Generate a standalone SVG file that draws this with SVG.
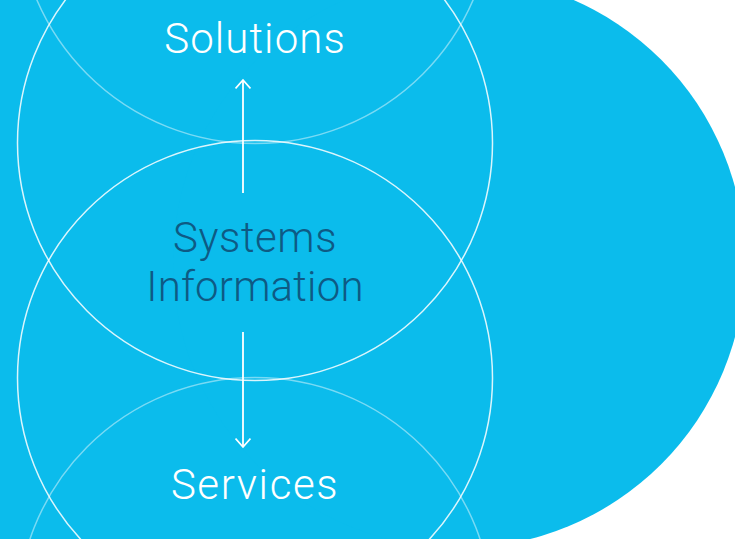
<svg xmlns="http://www.w3.org/2000/svg" width="735" height="539" viewBox="0 0 735 539">
<style>
.ring{fill:none;stroke:#ffffff;stroke-width:1.5}
.solid{stroke-opacity:0.85}
.faint{stroke-opacity:0.45}
.lbl{font-family:Roboto,"Liberation Sans",sans-serif;font-weight:300;font-size:42px;text-anchor:middle}
.light{fill:#ffffff}
.dark{fill:#0E5A84}
.conn{stroke:#ffffff;stroke-width:1.8;fill:none}
</style>
<defs>
<marker id="head" viewBox="0 0 12 16" markerWidth="12" markerHeight="16" refX="10" refY="8" orient="auto" markerUnits="userSpaceOnUse">
<path d="M1.5,0.5 L10,8 L1.5,15.5" fill="none" stroke="#ffffff" stroke-width="1.8"/>
</marker>
</defs>
<rect width="735" height="539" fill="#ffffff"/>
<g id="background">
<rect x="0" y="0" width="459" height="539" fill="#0BBCEC"/>
<circle cx="459" cy="262" r="286" fill="#0BBCEC"/>
</g>
<g id="node-solutions">
<circle class="ring faint" cx="255" cy="-94" r="237.5"/>
<text class="lbl light" x="255" y="53" letter-spacing="1.1">Solutions</text>
</g>
<g id="node-systems-information">
<circle class="ring solid" cx="255" cy="143" r="237.5"/>
<circle class="ring solid" cx="255" cy="378" r="237.5"/>
<text class="lbl dark" x="255" y="252" letter-spacing="0.6">Systems</text>
<text class="lbl dark" x="255" y="301" letter-spacing="0.2">Information</text>
</g>
<g id="node-services">
<circle class="ring faint" cx="255" cy="615" r="237.5"/>
<text class="lbl light" x="255" y="499" letter-spacing="1.6">Services</text>
</g>
<g id="connectors">
<line class="conn" x1="243" y1="193" x2="243" y2="80" marker-end="url(#head)"/>
<line class="conn" x1="243" y1="332" x2="243" y2="447" marker-end="url(#head)"/>
</g>
</svg>
